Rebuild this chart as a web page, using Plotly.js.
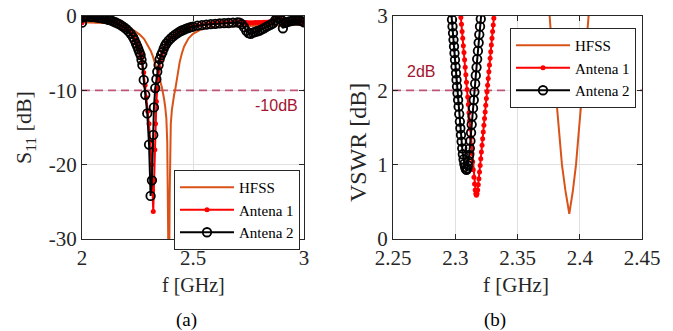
<!DOCTYPE html>
<html><head><meta charset="utf-8">
<script src="https://cdn.plot.ly/plotly-3.0.1.min.js"></script>
<style>html,body{margin:0;padding:0;background:#fff}#chart{width:673px;height:331px}</style>
</head><body><div id="chart"></div>
<script>
// ---------- Panel (a): S11 [dB] ----------
var fHfss = [2.00,2.05,2.10,2.15,2.20,2.23,2.26,2.28,2.30,2.31,2.32,2.33,2.34,2.35,2.36,2.365,2.37,2.375,2.38,2.384,2.387,2.389,2.391,2.393,2.395,2.397,2.40,2.405,2.41,2.415,2.42,2.43,2.44,2.45,2.46,2.48,2.50,2.53,2.56,2.60,2.70,2.80,2.90,3.00];
var s11Hfss = [-0.85,-0.88,-0.95,-1.1,-1.45,-1.85,-2.5,-3.1,-4.1,-4.7,-5.5,-6.4,-7.4,-8.5,-9.6,-10.3,-11.2,-12.3,-13.8,-17,-22,-28,-38,-32,-24,-18,-14.5,-12.6,-11.4,-10.6,-9.9,-7.8,-6.2,-5.0,-4.1,-3.0,-2.4,-1.9,-1.6,-1.45,-1.4,-1.35,-1.25,-1.15];

var fAnt2 = [2.000,2.005,2.01,2.02,2.03,2.04,2.05,2.06,2.07,2.08,2.09,2.10,2.11,2.12,2.13,2.14,2.15,2.16,2.17,2.18,2.19,2.20,2.21,2.22,2.23,2.236,2.243,2.249,2.254,2.259,2.264,2.268,2.272,2.278,2.285,2.294,2.302,2.309,2.315,2.321,2.324,2.330,2.335,2.339,2.345,2.350,2.356,2.362,2.368,2.374,2.38,2.39,2.40,2.41,2.42,2.43,2.44,2.45,2.46,2.47,2.48,2.49,2.50,2.52,2.54,2.56,2.58,2.60,2.62,2.64,2.66,2.68,2.70,2.71,2.72,2.73,2.74,2.75,2.76,2.77,2.78,2.79,2.80,2.81,2.82,2.83,2.84,2.85,2.86,2.87,2.88,2.89,2.90,2.905,2.91,2.92,2.93,2.94,2.95,2.96,2.97,2.98,2.99,3.00];
var s11Ant2 = [-0.9,-0.15,-0.05,-0.05,-0.07,-0.1,-0.13,-0.16,-0.2,-0.25,-0.3,-0.36,-0.43,-0.51,-0.6,-0.71,-0.84,-0.98,-1.14,-1.32,-1.53,-1.78,-2.07,-2.42,-2.85,-3.2,-3.7,-4.1,-4.5,-4.9,-5.25,-5.9,-6.6,-8.6,-10.6,-13.1,-17.3,-24.2,-22.1,-16.0,-12.3,-9.7,-8.5,-7.5,-6.6,-5.8,-5.25,-4.9,-4.4,-4.0,-3.7,-3.3,-3.0,-2.75,-2.5,-2.3,-2.1,-1.95,-1.82,-1.7,-1.6,-1.5,-1.42,-1.3,-1.22,-1.15,-1.1,-1.05,-1.0,-0.97,-0.94,-0.9,-0.87,-0.9,-1.1,-1.5,-2.0,-2.3,-2.4,-2.25,-2.15,-2.05,-1.95,-1.8,-1.65,-1.45,-1.3,-1.15,-1.0,-0.6,-0.25,-0.3,-0.6,-1.65,-0.95,-0.85,-0.75,-0.7,-0.62,-0.6,-0.58,-0.62,-0.7,-0.85];

var fAnt1 = [2.000,2.005,2.01,2.02,2.03,2.04,2.05,2.06,2.07,2.08,2.09,2.10,2.11,2.12,2.13,2.14,2.15,2.16,2.17,2.18,2.19,2.20,2.21,2.22,2.23,2.236,2.243,2.249,2.254,2.259,2.264,2.268,2.272,2.278,2.284,2.290,2.296,2.302,2.308,2.313,2.317,2.321,2.325,2.328,2.331,2.335,2.339,2.343,2.348,2.353,2.358,2.364,2.370,2.38,2.39,2.40,2.41,2.42,2.43,2.44,2.45,2.46,2.47,2.48,2.49,2.50,2.52,2.54,2.56,2.58,2.60,2.62,2.64,2.66,2.68,2.70,2.71,2.72,2.73,2.74,2.75,2.76,2.77,2.78,2.79,2.80,2.81,2.82,2.83,2.84,2.85,2.86,2.87,2.88,2.89,2.90,2.91,2.92,2.93,2.94,2.95,2.96,2.97,2.98,2.99,3.00];
var s11Ant1 = [-0.9,-0.12,-0.05,-0.05,-0.07,-0.1,-0.13,-0.16,-0.2,-0.25,-0.3,-0.36,-0.43,-0.51,-0.6,-0.71,-0.84,-0.98,-1.12,-1.28,-1.47,-1.7,-1.97,-2.3,-2.7,-3.0,-3.5,-3.9,-4.3,-4.7,-5.1,-5.6,-6.2,-7.6,-9.3,-11.0,-12.8,-14.5,-16.8,-20.0,-23.5,-26.3,-22.0,-18.0,-14.5,-11.5,-9.8,-8.3,-7.0,-6.0,-5.3,-4.8,-4.35,-3.75,-3.3,-3.0,-2.75,-2.5,-2.3,-2.1,-1.95,-1.82,-1.7,-1.6,-1.5,-1.42,-1.28,-1.18,-1.08,-1.0,-0.92,-0.88,-0.86,-0.84,-0.82,-0.8,-0.82,-0.84,-0.86,-0.88,-0.9,-0.9,-0.9,-0.89,-0.88,-0.87,-0.86,-0.85,-0.83,-0.8,-0.75,-0.65,-0.45,-0.25,-0.3,-0.5,-0.8,-0.82,-0.75,-0.7,-0.62,-0.6,-0.58,-0.62,-0.7,-0.85];

// ---------- Panel (b): VSWR [dB] ----------
var fHfssV = [2.3740,2.3758,2.3780,2.3804,2.3830,2.3857,2.3885,2.3916,2.3945,2.3970,2.3995,2.4023,2.4047,2.4071,2.4090];
var vHfss  = [3.3,3.0,2.5,2.0,1.5,1.0,0.65,0.34,0.65,1.0,1.5,2.0,2.5,3.0,3.3];

var fAnt1V = [2.3040,2.3045,2.3050,2.3055,2.3060,2.3065,2.3070,2.3075,2.3080,2.3085,2.3090,2.3095,2.3100,2.3105,2.3110,2.3115,2.3120,2.3125,2.3130,2.3135,2.3140,2.3145,2.3150,2.3155,2.3160,2.3165,2.3170,2.3175,2.3180,2.3185,2.3190,2.3195,2.3200,2.3205,2.3210,2.3215,2.3220,2.3225,2.3230,2.3235,2.3240,2.3245,2.3250,2.3255,2.3260,2.3265,2.3270,2.3275,2.3280,2.3285,2.3290,2.3295,2.3300,2.3305,2.3310,2.3315];
var vAnt1  = [3.08,2.98,2.89,2.79,2.70,2.60,2.51,2.41,2.31,2.21,2.11,2.01,1.91,1.81,1.70,1.59,1.48,1.37,1.26,1.15,1.04,0.93,0.83,0.74,0.66,0.61,0.59,0.61,0.66,0.73,0.81,0.90,0.99,1.08,1.17,1.26,1.35,1.44,1.53,1.62,1.71,1.80,1.89,1.98,2.07,2.16,2.25,2.34,2.43,2.52,2.61,2.70,2.79,2.88,2.97,3.06];

var fAnt2V = [2.2968,2.2974,2.2978,2.2982,2.2986,2.2990,2.2994,2.2998,2.3002,2.3006,2.3010,2.3014,2.3018,2.3023,2.3027,2.3032,2.3037,2.3041,2.3046,2.3051,2.3056,2.3061,2.3067,2.3073,2.3079,2.3085,2.3091,2.3097,2.3102,2.3107,2.3112,2.3117,2.3122,2.3127,2.3132,2.3138,2.3143,2.3149,2.3154,2.3160,2.3165,2.3171,2.3176,2.3182,2.3188,2.3193,2.3199,2.3205,2.3211];
var vAnt2  = [3.05,2.95,2.86,2.77,2.68,2.59,2.50,2.41,2.32,2.23,2.14,2.05,1.96,1.87,1.78,1.68,1.58,1.49,1.40,1.31,1.22,1.14,1.07,1.01,0.97,0.94,0.93,0.95,0.99,1.05,1.13,1.22,1.32,1.43,1.54,1.65,1.76,1.87,1.98,2.09,2.20,2.31,2.42,2.53,2.64,2.75,2.86,2.96,3.06];

var names = ['HFSS', 'Antena 1', 'Antena 2'];
var s11Ref = -10, vswrRef = 2;
var xRangeA = [2, 3], yRangeA = [-30, 0], xRangeB = [2.25, 2.45], yRangeB = [0, 3];
var xTicksA = [2, 2.5, 3], xLabelsA = ['2','2.5','3'];
var yTicksA = [-30, -20, -10, 0], yLabelsA = ['-30','-20','-10','0'];
var xTicksB = [2.25, 2.3, 2.35, 2.4, 2.45], xLabelsB = ['2.25','2.3','2.35','2.4','2.45'];
var yTicksB = [0, 1, 2, 3], yLabelsB = ['0','1','2','3'];

var cH = '#D95319', c1 = '#FF0000', c2 = '#000000', cRef = '#A2142F', cDash = '#BD5674';
var serif = 'Liberation Serif, Times New Roman, serif';
var sans = 'Liberation Sans, Arial, sans-serif';
var W = 673, H = 331;
function px(x){return x/W;} function py(y){return 1-y/H;}

function refLine(xr, yv, xa, ya){
  return {x:xr, y:[yv, yv], mode:'lines', line:{color:cDash,width:1.8,dash:'8px,5px'}, showlegend:false, hoverinfo:'skip', xaxis:xa, yaxis:ya};
}
var mk1 = {symbol:'circle',size:5,color:c1};
var mk2 = {symbol:'circle-open',size:8.5,color:c2,line:{width:1.8,color:c2}};
var traces = [
 refLine(xRangeA, s11Ref, 'x', 'y'),
 refLine(xRangeB, vswrRef, 'x2', 'y2'),
 {x:fHfss, y:s11Hfss, name:names[0], mode:'lines', line:{color:cH,width:2}, xaxis:'x', yaxis:'y', legend:'legend'},
 {x:fAnt1, y:s11Ant1, name:names[1], mode:'lines+markers', line:{color:c1,width:2}, marker:mk1, xaxis:'x', yaxis:'y', legend:'legend'},
 {x:fAnt2, y:s11Ant2, name:names[2], mode:'lines+markers', line:{color:c2,width:2}, marker:mk2, xaxis:'x', yaxis:'y', legend:'legend'},
 {x:fHfssV, y:vHfss, name:names[0], mode:'lines', line:{color:cH,width:2}, xaxis:'x2', yaxis:'y2', legend:'legend2'},
 {x:fAnt1V, y:vAnt1, name:names[1], mode:'lines+markers', line:{color:c1,width:2}, marker:mk1, xaxis:'x2', yaxis:'y2', legend:'legend2'},
 {x:fAnt2V, y:vAnt2, name:names[2], mode:'lines+markers', line:{color:c2,width:2}, marker:mk2, xaxis:'x2', yaxis:'y2', legend:'legend2'}
];

function ax(extra){
  var a = {showline:true, mirror:'ticks', linecolor:'#262626', linewidth:1, ticks:'inside', ticklen:5, tickwidth:1, tickcolor:'#262626',
    showgrid:true, gridcolor:'#e0e0e0', gridwidth:1, zeroline:false, tickfont:{family:serif,size:21,color:'#262626'}, fixedrange:true};
  for (var k in extra) a[k]=extra[k];
  return a;
}
var yDom = [py(239), py(16)];
function leg(x, y){
  return {x:px(x), y:py(y), xanchor:'left', yanchor:'top', bgcolor:'#fff', bordercolor:'#262626', borderwidth:1,
    font:{family:serif,size:15,color:'#000'}, tracegroupgap:0, itemwidth:54};
}
function note(text, x, y, size, color, family, angle){
  return {text:text, xref:'paper', yref:'paper', x:px(x), y:py(y), xanchor:'center', yanchor:'middle',
    textangle:angle||0, showarrow:false, font:{family:family,size:size,color:color}};
}
var layout = {
  width:W, height:H, margin:{l:0,r:0,t:0,b:0}, paper_bgcolor:'#fff', plot_bgcolor:'#fff',
  xaxis: ax({domain:[px(82),px(304)], range:xRangeA, tickvals:xTicksA, ticktext:xLabelsA, anchor:'y'}),
  yaxis: ax({domain:yDom, range:yRangeA, tickvals:yTicksA, ticktext:yLabelsA, anchor:'x'}),
  xaxis2: ax({domain:[px(393),px(642)], range:xRangeB, tickvals:xTicksB, ticktext:xLabelsB, anchor:'y2'}),
  yaxis2: ax({domain:yDom, range:yRangeB, tickvals:yTicksB, ticktext:yLabelsB, anchor:'x2'}),
  legend: leg(174, 170),
  legend2: leg(510, 28),
  annotations: [
    note('S<sub>11</sub> [dB]', 25, 128, 22, '#262626', serif, -90),
    note('VSWR [dB]', 358, 143, 24, '#262626', serif, -90),
    note('f [GHz]', 193, 285, 20, '#262626', serif),
    note('f [GHz]', 516, 285, 21, '#262626', serif),
    note('(a)', 186, 320, 19, '#000', serif),
    note('(b)', 495, 320, 19, '#000', serif),
    note('-10dB', 276, 105, 16, cRef, sans),
    note('2dB', 421, 71, 16, cRef, sans)
  ]
};
Plotly.newPlot('chart', traces, layout, {displayModeBar:false, staticPlot:true});
</script></body></html>
